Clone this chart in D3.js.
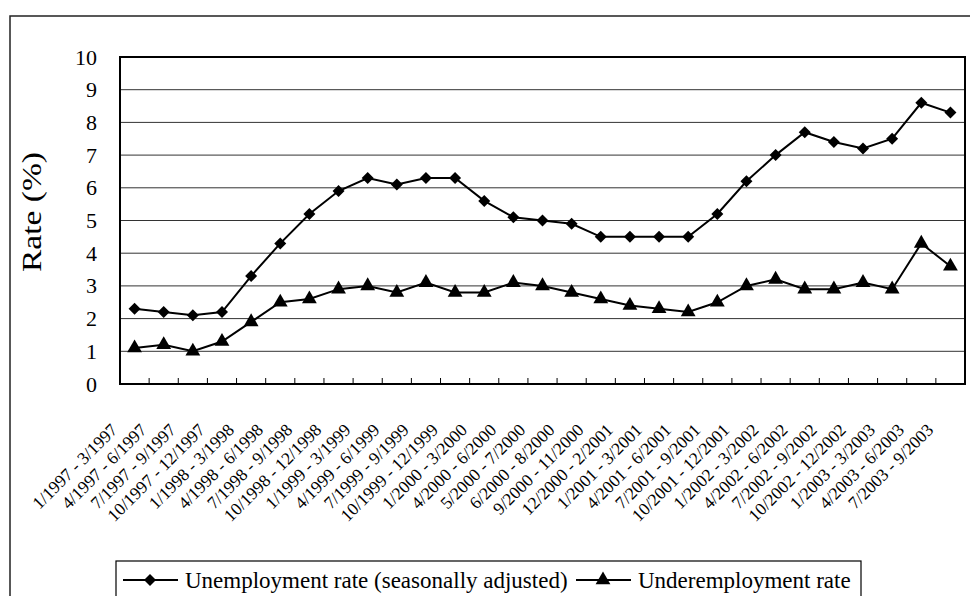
<!DOCTYPE html>
<html>
<head>
<meta charset="utf-8">
<script src="https://cdn.jsdelivr.net/npm/d3@7"></script>
<style>
  html, body { margin: 0; padding: 0; background: #fff; }
  svg { display: block; }
  svg text { font-family: "Liberation Serif", "Times New Roman", Times, serif !important; }
</style>
</head>
<body>
<svg id="chart" width="970" height="596"></svg>
<script>
// Quarterly periods (Hong Kong labour force survey)
const periods = [
  "1/1997 - 3/1997", "4/1997 - 6/1997", "7/1997 - 9/1997", "10/1997 - 12/1997",
  "1/1998 - 3/1998", "4/1998 - 6/1998", "7/1998 - 9/1998", "10/1998 - 12/1998",
  "1/1999 - 3/1999", "4/1999 - 6/1999", "7/1999 - 9/1999", "10/1999 - 12/1999",
  "1/2000 - 3/2000", "4/2000 - 6/2000", "5/2000 - 7/2000", "6/2000 - 8/2000",
  "9/2000 - 11/2000", "12/2000 - 2/2001", "1/2001 - 3/2001", "4/2001 - 6/2001",
  "7/2001 - 9/2001", "10/2001 - 12/2001", "1/2002 - 3/2002", "4/2002 - 6/2002",
  "7/2002 - 9/2002", "10/2002 - 12/2002", "1/2003 - 3/2003", "4/2003 - 6/2003",
  "7/2003 - 9/2003"
];

// Unemployment rate, seasonally adjusted (%)
const unemployment = [
  2.3, 2.2, 2.1, 2.2, 3.3, 4.3, 5.2, 5.9, 6.3, 6.1, 6.3, 6.3, 5.6, 5.1, 5.0,
  4.9, 4.5, 4.5, 4.5, 4.5, 5.2, 6.2, 7.0, 7.7, 7.4, 7.2, 7.5, 8.6, 8.3
];

// Underemployment rate (%)
const underemployment = [
  1.1, 1.2, 1.0, 1.3, 1.9, 2.5, 2.6, 2.9, 3.0, 2.8, 3.1, 2.8, 2.8, 3.1, 3.0,
  2.8, 2.6, 2.4, 2.3, 2.2, 2.5, 3.0, 3.2, 2.9, 2.9, 3.1, 2.9, 4.3, 3.6
];

const yTicks = [0, 1, 2, 3, 4, 5, 6, 7, 8, 9, 10];

const seriesNames = ["Unemployment rate (seasonally adjusted)", "Underemployment rate"];

const svg = d3.select("#chart");
const plot = { left: 120, right: 965, top: 57, bottom: 384 };

// Outer chart frame
svg.append("rect")
  .attr("x", 10).attr("y", 16)
  .attr("width", 1000).attr("height", 1000)
  .attr("fill", "none").attr("stroke", "#222").attr("stroke-width", 1.5);

const x = d3.scaleBand().domain(periods).range([plot.left, plot.right]).padding(0);
const y = d3.scaleLinear().domain([0, 10]).range([plot.bottom, plot.top]);

// Horizontal gridlines
svg.append("g")
  .selectAll("line")
  .data(yTicks.filter(d => d > 0 && d < 10))
  .join("line")
  .attr("x1", plot.left).attr("x2", plot.right)
  .attr("y1", d => y(d)).attr("y2", d => y(d))
  .attr("stroke", "#333").attr("stroke-width", 1);

// Y axis labels
const yAxis = d3.axisLeft(y).tickValues(yTicks).tickSize(0).tickPadding(23).tickFormat(d3.format("d"));
svg.append("g")
  .attr("transform", `translate(${plot.left},0)`)
  .call(yAxis)
  .call(g => g.select(".domain").remove())
  .call(g => g.selectAll("text")
    .attr("font-size", 22).attr("fill", "#000"));

// Category tick marks along the bottom (pointing inward)
const boundaries = periods.slice(1).map(p => x(p));
svg.append("g")
  .selectAll("line")
  .data(boundaries)
  .join("line")
  .attr("x1", d => d).attr("x2", d => d)
  .attr("y1", plot.bottom).attr("y2", plot.bottom - 6)
  .attr("stroke", "#000").attr("stroke-width", 1);

// Rotated category labels
const xAxis = d3.axisBottom(x).tickSize(0);
svg.append("g")
  .attr("transform", `translate(0,${plot.bottom})`)
  .call(xAxis)
  .call(g => g.select(".domain").remove())
  .call(g => g.selectAll("text")
    .attr("font-size", 17.5).attr("fill", "#000")
    .attr("text-anchor", "end")
    .attr("dy", null)
    .attr("y", 0)
    .attr("transform", "translate(-16,47) rotate(-45)"));

// Plot area border
svg.append("rect")
  .attr("x", plot.left).attr("y", plot.top)
  .attr("width", plot.right - plot.left).attr("height", plot.bottom - plot.top)
  .attr("fill", "none").attr("stroke", "#000").attr("stroke-width", 2);

// Y axis title
svg.append("text")
  .attr("transform", `translate(41,272) rotate(-90)`)
  .attr("text-anchor", "start")
  .attr("font-size", 28)
  .attr("textLength", 120)
  .attr("lengthAdjust", "spacingAndGlyphs")
  .attr("fill", "#000")
  .text("Rate (%)");

const cx = d => x(d) + x.bandwidth() / 2;
const line = d3.line().x((d, i) => cx(periods[i])).y(d => y(d));

const diamond = d3.symbol().type(d3.symbolSquare).size(72);
const triangle = d3.symbol().type(d3.symbolTriangle).size(95);

function drawSeries(values, sym, rotate) {
  svg.append("path")
    .datum(values)
    .attr("d", line)
    .attr("fill", "none").attr("stroke", "#000").attr("stroke-width", 2);
  svg.append("g")
    .selectAll("path")
    .data(values)
    .join("path")
    .attr("d", sym)
    .attr("transform", (d, i) => `translate(${cx(periods[i])},${y(d)})${rotate ? " rotate(45)" : ""}`)
    .attr("fill", "#000");
}

drawSeries(unemployment, diamond, true);
drawSeries(underemployment, triangle, false);

// Legend
const legend = svg.append("g");
legend.append("rect")
  .attr("x", 116).attr("y", 561).attr("width", 745).attr("height", 60)
  .attr("fill", "#fff").attr("stroke", "#000").attr("stroke-width", 1.2);

const legendItems = [
  { name: seriesNames[0], x0: 123, sym: diamond, rot: true },
  { name: seriesNames[1], x0: 576, sym: triangle, rot: false }
];
legendItems.forEach(it => {
  legend.append("line")
    .attr("x1", it.x0).attr("x2", it.x0 + 55)
    .attr("y1", 580).attr("y2", 580)
    .attr("stroke", "#000").attr("stroke-width", 2);
  legend.append("path")
    .attr("d", it.sym)
    .attr("transform", `translate(${it.x0 + 27},580)${it.rot ? " rotate(45)" : ""}`)
    .attr("fill", "#000");
  legend.append("text")
    .attr("x", it.x0 + 62).attr("y", 588)
    .attr("font-size", 23)
    .attr("fill", "#000")
    .text(it.name);
});
</script>
</body>
</html>
